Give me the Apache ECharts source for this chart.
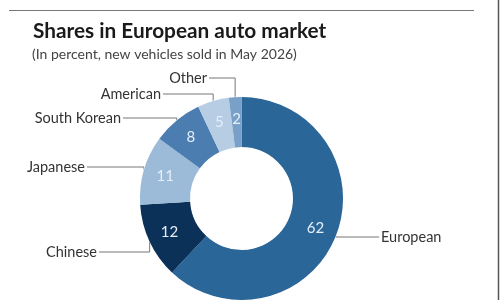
<!DOCTYPE html>
<html>
<head>
<meta charset="utf-8">
<script src="https://cdn.jsdelivr.net/npm/echarts@6/dist/echarts.min.js"></script>
<style>
  html, body { margin: 0; padding: 0; background: #fff; }
  #main { width: 500px; height: 300px; }
</style>
</head>
<body>
<div id="main"></div>
<script>
  // 資料
  var categories = ['European', 'Chinese', 'Japanese', 'South Korean', 'American', 'Other'];
  var shares = [62, 12, 11, 8, 5, 2];
  var sliceColors = ['#2b6699', '#0b3158', '#9bbbd9', '#4b7db0', '#b6cde4', '#78a0c8'];
  // label anchor points (text edge next to the line, vertical middle)
  var labelPos = [[381, 237], [97, 252], [85, 167], [121, 118], [161, 94], [207, 78]];

  var chartDom = document.getElementById('main');
  var chart = echarts.init(chartDom);

  var pieData = [];
  for (var i = 0; i < categories.length; i++) {
    pieData.push({ name: categories[i], value: shares[i], itemStyle: { color: sliceColors[i] } });
  }

  var center = [241.5, 198.5];
  var radius = [51.5, 101.5];

  var option = {
    animation: false,
    title: [{
      text: 'Shares in European auto market',
      left: 28, top: 16,
      textStyle: { fontFamily: 'Lato', fontSize: 20.8, fontWeight: 'bold', color: '#1a1a1a' }
    }, {
      text: '(In percent, new vehicles sold in May 2026)',
      left: 27, top: 42,
      textStyle: { fontFamily: 'Lato', fontSize: 14, fontWeight: 'normal', color: '#444' }
    }],
    graphic: [
      { type: 'line', shape: { x1: 9, y1: 10.5, x2: 474, y2: 10.5 }, style: { stroke: '#777', lineWidth: 1 } },
      { type: 'line', shape: { x1: 498.5, y1: 0, x2: 498.5, y2: 300 }, style: { stroke: '#555', lineWidth: 1.5 } }
    ],
    series: [{
      // slices + values inside
      type: 'pie',
      center: center,
      radius: radius,
      startAngle: 90,
      clockwise: true,
      avoidLabelOverlap: false,
      itemStyle: { borderColor: '#fff', borderWidth: 1 },
      label: {
        show: true,
        position: 'inside',
        formatter: '{c}',
        fontFamily: 'Lato',
        fontSize: 15,
        color: '#e6eff8'
      },
      labelLine: { show: false },
      emphasis: { disabled: true },
      data: pieData
    }, {
      // category names outside with elbow lines
      type: 'pie',
      center: center,
      radius: radius,
      startAngle: 90,
      clockwise: true,
      silent: true,
      avoidLabelOverlap: false,
      itemStyle: { color: 'rgba(0,0,0,0)' },
      label: {
        show: true,
        position: 'outside',
        formatter: '{b}',
        fontFamily: 'Lato',
        fontSize: 14.5,
        color: '#333'
      },
      labelLine: { show: true, length: 10, length2: 10, lineStyle: { color: '#777', width: 1 } },
      labelLayout: function (p) {
        var pos = labelPos[p.dataIndex];
        var pts = p.labelLinePoints;
        var ax = pts[0][0], ay = pts[0][1];
        var onLeft = pos[0] < ax;
        var lineEnd = onLeft ? pos[0] + 2 : pos[0] - 2;
        return {
          x: pos[0],
          y: pos[1],
          align: onLeft ? 'right' : 'left',
          verticalAlign: 'middle',
          labelLinePoints: [[ax, ay], [ax, pos[1]], [lineEnd, pos[1]]]
        };
      },
      emphasis: { disabled: true },
      data: pieData
    }]
  };

  if (option && typeof option === 'object') {
    chart.setOption(option, true);
  }
</script>
</body>
</html>
